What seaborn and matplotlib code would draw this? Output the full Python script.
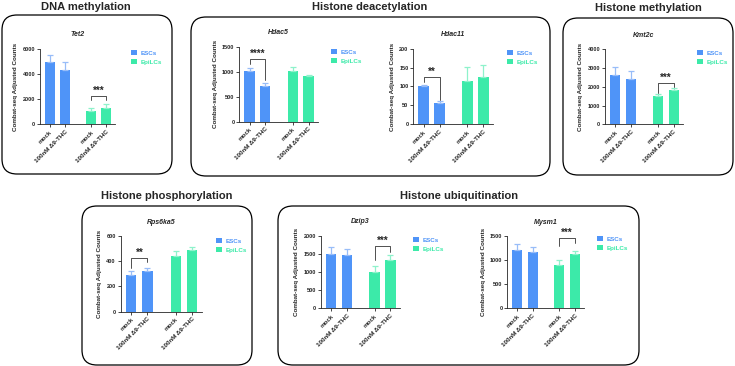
import numpy as np
import pandas as pd
import matplotlib
matplotlib.use('Agg')
import matplotlib.pyplot as plt
from matplotlib.patches import FancyBboxPatch, Patch
import seaborn as sns

# bar order in every panel
cells = ['ESCs', 'ESCs', 'EpiLCs', 'EpiLCs']
treatments = ['mock', '100nM Δ9-THC', 'mock', '100nM Δ9-THC']

# means / SD
tet2_mean = [4920, 4310, 1060, 1270]
tet2_sd = [580, 620, 210, 310]
hdac5_mean = [1015, 715, 1020, 915]
hdac5_sd = [55, 65, 68, 10]
hdac11_mean = [100.5, 57, 114.5, 126]
hdac11_sd = [2.5, 4.6, 36, 31]
kmt2c_mean = [2630, 2420, 1495, 1815]
kmt2c_sd = [410, 410, 105, 105]
rps6ka5_mean = [291, 325, 442, 489]
rps6ka5_sd = [32, 19, 42, 27]
dzip3_mean = [1490, 1460, 1000, 1322]
dzip3_sd = [210, 165, 157, 146]
mysm1_mean = [1210, 1168, 905, 1120]
mysm1_sd = [125, 110, 103, 69]

# significance: (bar a, bar b, stars, bracket top, left leg end, right leg end)
tet2_sig = (2, 3, '***', 2270, 1930, 1930)
hdac5_sig = (0, 1, '****', 1248, 1160, 830)
hdac11_sig = (0, 1, '**', 126, 113, 64)
kmt2c_sig = (2, 3, '***', 2190, 1680, 1970)
rps6ka5_sig = (0, 1, '**', 428, 350, 397)
dzip3_sig = (2, 3, '***', 1716, 1330, 1560)
mysm1_sig = (2, 3, '***', 1465, 1300, 1350)

yticks_tet2 = [0, 2000, 4000, 6000]
yticks_hdac5 = [0, 500, 1000, 1500]
yticks_hdac11 = [0, 50, 100, 150, 200]
yticks_kmt2c = [0, 1000, 2000, 3000, 4000]
yticks_rps6ka5 = [0, 200, 400, 600]
yticks_dzip3 = [0, 500, 1000, 1500, 2000]
yticks_mysm1 = [0, 500, 1000, 1500]

group_titles = ['DNA methylation', 'Histone deacetylation', 'Histone methylation',
                'Histone phosphorylation', 'Histone ubiquitination']

sns.set_style('ticks')
plt.rcParams['font.family'] = ['Liberation Sans', 'DejaVu Sans']

blue = '#4f94f8'
green = '#3ceaa9'
blue_light = '#98bdf8'
green_light = '#8ef2cb'
pal = {'ESCs': blue, 'EpiLCs': green}
light = {'ESCs': blue_light, 'EpiLCs': green_light}

W, H = 735, 366
fig = plt.figure(figsize=(W / 100, H / 100), dpi=100)

# group boxes (px: left, top, right, bottom)
boxes = [(2, 15, 172, 174), (191, 17, 550, 176), (563, 18, 733, 175),
         (82, 206, 252, 365), (278, 206, 639, 365)]
title_pos = [(86, 7), (370, 7), (648, 8), (167, 196), (459, 196)]
for (l, t, r, b), txt, (tx, ty) in zip(boxes, group_titles, title_pos):
    box = FancyBboxPatch((l / 100, (H - b) / 100), (r - l) / 100, (b - t) / 100,
                         boxstyle='round,pad=0,rounding_size=0.15',
                         transform=fig.dpi_scale_trans, facecolor='none',
                         edgecolor='black', linewidth=0.9)
    fig.patches.append(box)
    fig.text(tx / W, 1 - ty / H, txt, ha='center', va='center',
             fontsize=8, fontweight='bold')

pos = [0, 1, 2.75, 3.75]

panels = [
    ('Tet2', tet2_mean, tet2_sd, tet2_sig, yticks_tet2, (40, 115, 48.7, 124.3), (131, 50)),
    ('Hdac5', hdac5_mean, hdac5_sd, hdac5_sig, yticks_hdac5, (239.3, 318, 46.7, 121.7), (331, 49)),
    ('Hdac11', hdac11_mean, hdac11_sd, hdac11_sig, yticks_hdac11, (413.3, 493, 48.7, 124.3), (507, 50)),
    ('Kmt2c', kmt2c_mean, kmt2c_sd, kmt2c_sig, yticks_kmt2c, (605, 683, 49.3, 124.3), (697, 50)),
    ('Rps6ka5', rps6ka5_mean, rps6ka5_sd, rps6ka5_sig, yticks_rps6ka5, (120.7, 201.7, 236, 311.7), (216, 238)),
    ('Dzip3', dzip3_mean, dzip3_sd, dzip3_sig, yticks_dzip3, (320.7, 400, 235.7, 308.3), (413, 237)),
    ('Mysm1', mysm1_mean, mysm1_sd, mysm1_sig, yticks_mysm1, (507.3, 584, 236, 308.3), (597, 236)),
]

for gene, mean, sd, sig, yt, (l, r, t, b), (lx, ly) in panels:
    ax = fig.add_axes([l / W, 1 - b / H, (r - l) / W, (b - t) / H])
    df = pd.DataFrame({'pos': pos, 'mean': mean, 'cell': cells})
    sns.barplot(data=df, x='pos', y='mean', hue='cell', palette=pal, saturation=1,
                native_scale=True, dodge=False, width=0.65, errorbar=None,
                legend=False, linewidth=0, ax=ax)
    for p, m, s, c in zip(pos, mean, sd, cells):
        ax.errorbar(p, m, yerr=[[0], [s]], fmt='none', ecolor=light[c],
                    elinewidth=0.9, capsize=2.2, capthick=0.9, zorder=1)

    a, bb, stars, top, le, re = sig
    ax.plot([pos[a], pos[a], pos[bb], pos[bb]], [le, top, top, re],
            color='#333333', lw=0.6, zorder=3)
    ax.text((pos[a] + pos[bb]) / 2, top, stars, ha='center', va='bottom',
            fontsize=7, fontweight='bold')

    ax.set_xlim(-0.65, 4.35)
    ax.set_ylim(0, yt[-1])
    ax.set_yticks(yt)
    ax.set_yticklabels([str(v) for v in yt], fontsize=4, fontweight='bold')
    ax.set_xticks(pos)
    ax.set_xticklabels(treatments, rotation=45, ha='right', rotation_mode='anchor',
                       fontsize=4.5, fontweight='bold')
    ax.set_xlabel('')
    ax.set_ylabel('Combat-seq Adjusted Counts', fontsize=4.5, fontweight='bold', labelpad=3)
    ax.set_title(gene, fontsize=5, fontweight='bold', style='italic', pad=9)
    ax.tick_params(axis='both', length=2, width=0.6, pad=1.5)
    for sp in ['left', 'bottom']:
        ax.spines[sp].set_linewidth(0.6)
    sns.despine(ax=ax)

    handles = [Patch(facecolor=blue, edgecolor='none'), Patch(facecolor=green, edgecolor='none')]
    leg = ax.legend(handles, ['ESCs', 'EpiLCs'], loc='upper left',
                    bbox_to_anchor=(lx / W, 1 - ly / H), bbox_transform=fig.transFigure,
                    frameon=False, prop={'size': 4.5, 'weight': 'bold'},
                    handlelength=1.0, handleheight=0.8, handletextpad=0.5,
                    labelspacing=0.55, borderpad=0, borderaxespad=0)
    for txt, col in zip(leg.get_texts(), [blue, green]):
        txt.set_color(col)

fig.savefig('out.png', dpi=100)
